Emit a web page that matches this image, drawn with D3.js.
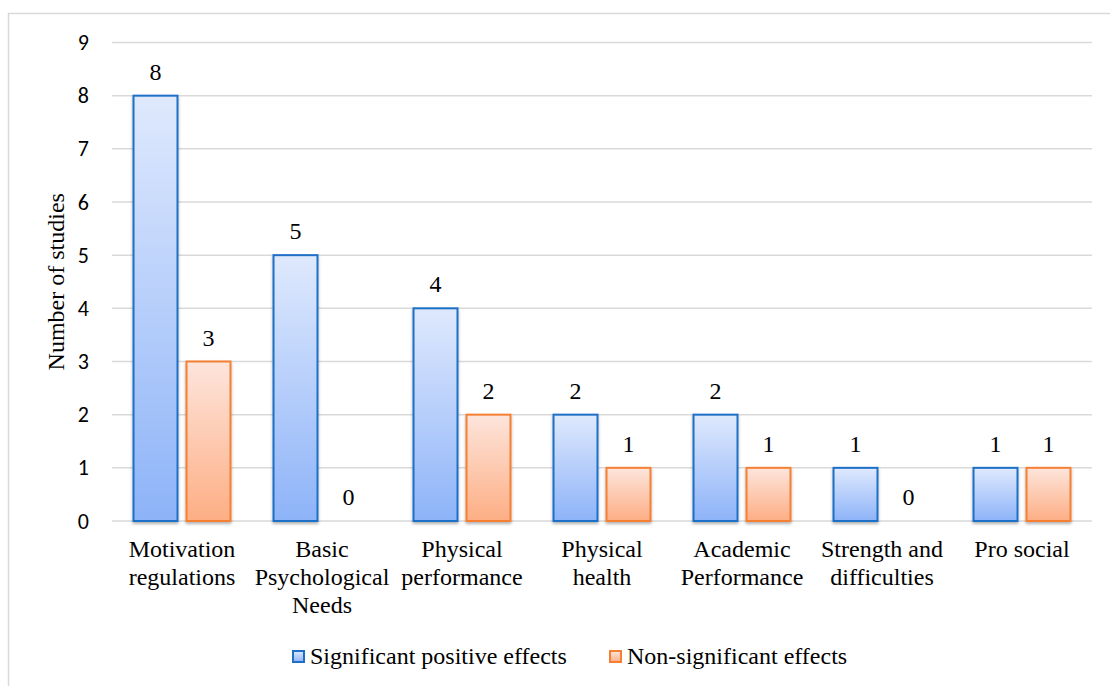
<!DOCTYPE html>
<html>
<head>
<meta charset="utf-8">
<script src="https://cdn.jsdelivr.net/npm/d3@7"></script>
<style>
html,body{margin:0;padding:0;background:#fff;}
svg{display:block;}
</style>
</head>
<body>
<svg id="chart" width="1110" height="686"></svg>
<script>
const categories = [
  ["Motivation","regulations"],
  ["Basic","Psychological","Needs"],
  ["Physical","performance"],
  ["Physical","health"],
  ["Academic","Performance"],
  ["Strength and","difficulties"],
  ["Pro social"]
];
const seriesNames = ["Significant positive effects","Non-significant effects"];
const significant = [8,5,4,2,2,1,1];
const nonSignificant = [3,0,2,1,1,0,1];
const yTicks = [0,1,2,3,4,5,6,7,8,9];

(function(){
const SERIF = '"Liberation Serif"';
const SANS = '"Carlito"';
const svg = d3.select("#chart");
const pLeft = 112, pRight = 1092, pTop = 42.5, pBottom = 521;

// frame
svg.append("rect").attr("x",8.5).attr("y",13.5).attr("width",1110).attr("height",700)
  .attr("fill","none").attr("stroke","#d9d9d9").attr("stroke-width",1.5);

const defs = svg.append("defs");
const gb = defs.append("linearGradient").attr("id","gBlue").attr("x1",0).attr("y1",0).attr("x2",0).attr("y2",1);
gb.append("stop").attr("offset","0%").attr("stop-color","#dfe9fd");
gb.append("stop").attr("offset","100%").attr("stop-color","#8db3f8");
const go = defs.append("linearGradient").attr("id","gOrange").attr("x1",0).attr("y1",0).attr("x2",0).attr("y2",1);
go.append("stop").attr("offset","0%").attr("stop-color","#fde5dc");
go.append("stop").attr("offset","100%").attr("stop-color","#fdae84");
const f = defs.append("filter").attr("id","shadow").attr("x","-20%").attr("y","-10%").attr("width","140%").attr("height","130%");
f.append("feDropShadow").attr("dx",0).attr("dy",2).attr("stdDeviation",1.8).attr("flood-color","#000").attr("flood-opacity",0.3);

const x0 = d3.scaleBand().domain(d3.range(categories.length)).range([pLeft,pRight]).paddingInner(0).paddingOuter(0);
const x1 = d3.scaleBand().domain([0,1]).range([0,x0.bandwidth()]).paddingInner(0.17).paddingOuter(0.406);
const y = d3.scaleLinear().domain([0,9]).range([pBottom,pTop]);

// gridlines
svg.append("g").selectAll("line").data(yTicks).join("line")
  .attr("x1",pLeft).attr("x2",pRight)
  .attr("y1",d=>y(d)).attr("y2",d=>y(d))
  .attr("stroke","#d9d9d9").attr("stroke-width",1.5);

// y tick labels
const yAxis = d3.axisLeft(y).tickValues(yTicks).tickSize(0).tickPadding(0);
const ya = svg.append("g").attr("transform",`translate(89,0)`).call(yAxis);
ya.select(".domain").remove();
ya.selectAll("text").style("font-family",SANS).style("font-size","22px").attr("fill","#000");

// y label
svg.append("text").attr("transform",`translate(64,${(pTop+pBottom)/2}) rotate(-90)`)
  .attr("text-anchor","middle").style("font-family",SERIF).style("font-size","24px")
  .text("Number of studies");

const series = [
  {vals:significant, fill:"url(#gBlue)", stroke:"#1f6fc6"},
  {vals:nonSignificant, fill:"url(#gOrange)", stroke:"#f57f32"}
];

series.forEach((s,si)=>{
  const g = svg.append("g");
  g.selectAll("rect").data(s.vals.map((v,i)=>({v,i})).filter(d=>d.v>0)).join("rect")
    .attr("x",d=>x0(d.i)+x1(si))
    .attr("y",d=>y(d.v))
    .attr("width",x1.bandwidth())
    .attr("height",d=>y(0)-y(d.v))
    .attr("fill",s.fill).attr("stroke",s.stroke).attr("stroke-width",2)
    .attr("filter","url(#shadow)");
  g.selectAll("text").data(s.vals.map((v,i)=>({v,i}))).join("text")
    .attr("x",d=>x0(d.i)+x1(si)+x1.bandwidth()/2)
    .attr("y",d=>y(d.v)-16)
    .attr("text-anchor","middle").style("font-family",SERIF).style("font-size","24px")
    .text(d=>d.v);
});

// category labels
const cg = svg.append("g");
categories.forEach((lines,i)=>{
  const cx = x0(i)+x0.bandwidth()/2;
  const t = cg.append("text").attr("text-anchor","middle")
    .style("font-family",SERIF).style("font-size","24px")
    .attr("x",cx).attr("y",557);
  lines.forEach((ln,k)=>{
    t.append("tspan").attr("x",cx).attr("dy",k===0?0:28).text(ln);
  });
});

// legend
const legend = [
  {name:seriesNames[0], fill:"url(#gBlue)", stroke:"#1f6fc6", x:292},
  {name:seriesNames[1], fill:"url(#gOrange)", stroke:"#f57f32", x:609}
];
legend.forEach(l=>{
  svg.append("rect").attr("x",l.x+1).attr("y",651).attr("width",11).attr("height",11)
    .attr("fill",l.fill).attr("stroke",l.stroke).attr("stroke-width",2);
  svg.append("text").attr("x",l.x+18).attr("y",664)
    .style("font-family",SERIF).style("font-size","24px").text(l.name);
});
})();
</script>
</body>
</html>
